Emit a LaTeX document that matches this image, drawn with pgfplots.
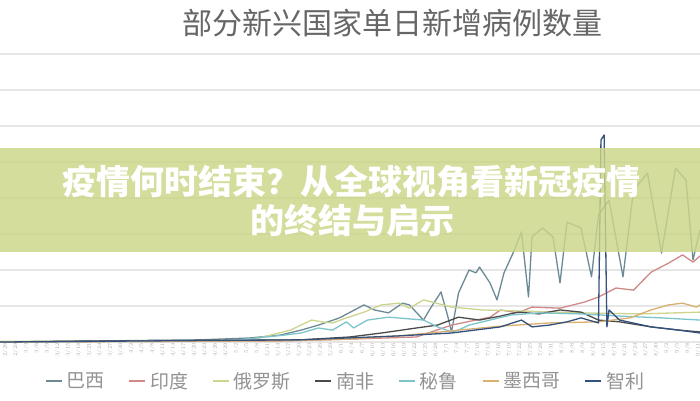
\documentclass[border=0pt]{standalone}
\usepackage{pgfplots}
\pgfplotsset{compat=1.18}
\usepackage{fontspec}
\newfontfamily\cjk{Noto Sans CJK SC}
\definecolor{cBR}{HTML}{6B8A96}
\definecolor{cIN}{HTML}{D08888}
\definecolor{cRU}{HTML}{CDD48E}
\definecolor{cZA}{HTML}{4A4A4A}
\definecolor{cPE}{HTML}{7CC4CC}
\definecolor{cMX}{HTML}{D8B070}
\definecolor{cCL}{HTML}{34507E}
\definecolor{gridc}{HTML}{E6E6E6}
\definecolor{banner}{HTML}{CCD688}
\begin{document}
\begin{tikzpicture}
\useasboundingbox (0,0) rectangle (700pt,400pt);
\fill[white] (0,0) rectangle (700pt,400pt);
\begin{axis}[
  at={(0pt,58pt)}, anchor=south west,
  scale only axis, width=700pt, height=288pt,
  xmin=0, xmax=200, ymin=0, ymax=80,
  axis line style={draw=none},
  major tick length=0pt,
  ytick={0,10,...,80}, yticklabels={},
  ymajorgrids, grid style={color=gridc, line width=1.2pt},
  xtick={1.5,4.5,...,199},
  xticklabels={2/26,2/29,3/3,3/6,3/9,3/12,3/15,3/18,3/21,3/24,3/27,3/30,4/2,4/5,4/8,4/11,4/14,4/17,4/20,4/23,4/26,4/29,5/2,5/5,5/8,5/11,5/14,5/17,5/20,5/23,5/26,5/29,6/1,6/4,6/7,6/10,6/13,6/16,6/19,6/22,6/25,6/28,7/1,7/4,7/7,7/10,7/13,7/16,7/19,7/22,7/25,7/28,7/31,8/3,8/6,8/9,8/12,8/15,8/18,8/21,8/24,8/27,8/30,9/2,9/5,9/8,9/11},
  x tick label style={rotate=90, anchor=east, font=\fontsize{5.5}{5.5}\selectfont, text=gray!65, inner sep=1pt},
  every axis plot/.append style={line width=1.3pt, line join=round},
  legend columns=7,
  legend style={at={(0.492,-0.135)}, anchor=center, draw=none, fill=none,
    font=\cjk\fontsize{19}{20}\selectfont, text=gray!85,
    nodes={inner xsep=0pt},
    /tikz/every odd column/.append style={column sep=4pt},
    /tikz/every even column/.append style={column sep=24pt}},
  legend image code/.code={\draw[#1, line width=1.6pt] (0pt,0pt) -- (16pt,0pt);},
]
\addplot[cBR] coordinates {(0,0)(28.6,0.3)(57,0.6)(71,1.1)(80,1.9)(86,3.3)(91,4.7)(97,6.7)(104,10.3)(107,8.9)(111,8.1)(115,10.8)(117,10.3)(121,6.1)(123,9.4)(126,13.9)(128,6.9)(129,2.8)(131,13.6)(134,20.0)(136,19.2)(137,20.8)(140,16.4)(142,11.7)(144,19.2)(147,25.6)(149,30.6)(151,12.5)(152,29.2)(155,31.7)(158,29.2)(160,16.4)(162,33.3)(166,31.7)(169,18.1)(171,35.3)(174,39.4)(178,18.1)(181,42.2)(185,46.9)(189,24.7)(193,48.3)(196,45)(198,22.8)(200,31.1)};
\addlegendentry{巴西}
\addplot[cIN] coordinates {(0,0)(80,0.3)(100,0.8)(119,1.4)(129,4.7)(140,6.9)(143,8.9)(148,8.1)(152,9.7)(160,9.4)(167,11.1)(171,12.5)(176,15)(181,14.4)(186,19.4)(191,21.9)(195,24.2)(198,22.2)(200,23.9)};
\addlegendentry{印度}
\addplot[cRU] coordinates {(0,0.2)(66,0.3)(74,1.1)(83,3.3)(89,6.1)(92,5.6)(95,5.3)(99,6.7)(104,8.3)(109,10.3)(114,10.8)(117,9.4)(121,11.7)(129,9.7)(138,8.9)(149,8.6)(166,8.1)(183,7.8)(200,8.3)};
\addlegendentry{俄罗斯}
\addplot[cZA] coordinates {(0,0)(27,0.3)(86,0.6)(100,1.4)(109,2.5)(119,3.9)(125,4.7)(131,6.9)(137,6.1)(143,7.2)(148,8.3)(154,7.8)(160,8.9)(166,8.3)(171,6.1)(177,5.6)(186,4.2)(194,3.3)(200,2.8)};
\addlegendentry{南非}
\addplot[cPE] coordinates {(0,0)(66,0.3)(76,1.4)(81,1.9)(86,2.5)(91,3.9)(95,3.3)(99,5.6)(101,3.9)(105,6.1)(111,6.9)(121,6.1)(125,4.2)(129,2.8)(131,3.3)(134,4.7)(140,6.1)(146,7.5)(154,8.1)(166,7.8)(177,7.2)(189,6.7)(200,6.1)};
\addlegendentry{秘鲁}
\addplot[cMX] coordinates {(0,0)(80,0.3)(100,0.8)(114,1.7)(129,3.1)(143,4.4)(157,5.3)(171,5.6)(180,6.7)(186,8.9)(191,10.3)(195,10.8)(199,9.7)(200,10.3)};
\addlegendentry{墨西哥}
\addplot[cCL] coordinates {(0,0)(86,0.6)(114,1.7)(129,2.5)(143,4.2)(149,6.1)(152,4.2)(157,4.7)(162,5.6)(166,6.7)(171,5.3)(171.7,56.1)(172.6,57.5)(173.4,4.2)(174,8.9)(177,6.1)(186,4.2)(194,3.3)(200,2.5)};
\addlegendentry{智利}
\end{axis}
\node[font=\cjk\fontsize{30}{32}\selectfont, text=gray!80!black] at (392pt,377pt) {部分新兴国家单日新增病例数量};
\fill[banner, fill opacity=0.82] (0pt,148pt) rectangle (700pt,252pt);
\node[font=\cjk\bfseries\fontsize{34}{36}\selectfont, text=white] at (351pt,218pt) {疫情何时结束？从全球视角看新冠疫情};
\node[font=\cjk\bfseries\fontsize{34}{36}\selectfont, text=white] at (352pt,179pt) {的终结与启示};
\end{tikzpicture}
\end{document}
